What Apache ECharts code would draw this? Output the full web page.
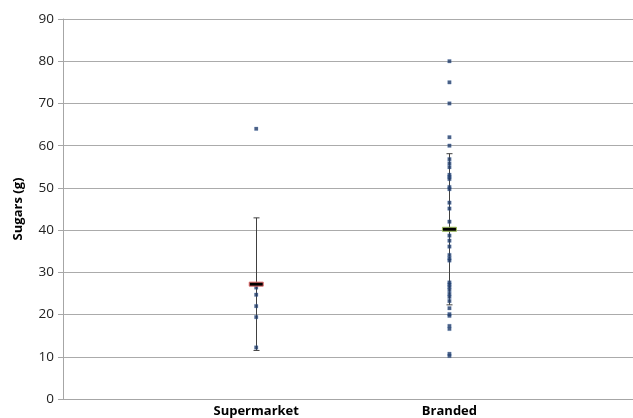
<!DOCTYPE html>
<html><head><meta charset="utf-8">
<script src="https://cdn.jsdelivr.net/npm/echarts@6/dist/echarts.min.js"></script>
<style>html,body{margin:0;padding:0;background:#fff}#c{width:633px;height:418px}</style>
</head><body><div id="c"></div>
<script>
var categories = ['Supermarket', 'Branded'];
var categoryX = [1, 2];
var supermarketValues = [64, 26.4, 24.7, 22.0, 19.4, 12.2];
var brandedValues = [80, 75, 70, 62, 60, 56.8, 55.8, 54.9, 53.1, 52.6, 52.1, 50.2, 49.7, 46.5, 45.1, 42.0, 40.2, 38.7, 37.5, 36.1, 34.1, 33.3, 32.8, 27.6, 27.1, 26.5, 25.8, 24.9, 24.2, 23.2, 21.5, 20.1, 19.7, 17.3, 16.6, 10.7, 10.2];
var means = [27.2, 40.2];
var sds = [15.7, 17.9];
var meanBorderColors = ['#E46C6C', '#9BBB59'];
var yTicks = [0, 10, 20, 30, 40, 50, 60, 70, 80, 90];

var chart = echarts.init(document.getElementById('c'));
function pts(x, arr){ return arr.map(function(v){ return [x, v]; }); }
var whiskerData = means.map(function(m, i){ return [categoryX[i], m - sds[i], m + sds[i]]; });
var meanData = means.map(function(m, i){ return [categoryX[i], m, i]; });

chart.setOption({
  animation: false,
  grid: {left: 63, right: 0, top: 19, bottom: 19},
  xAxis: {
    type: 'value', min: 0, max: 2.95, interval: 1,
    axisLine: {show: true, lineStyle: {color: '#A6A6A6'}},
    axisTick: {show: false},
    splitLine: {show: false},
    axisLabel: {
      showMaxLabel: false,
      margin: 6, fontSize: 13, fontWeight: 'bold', color: '#000', fontFamily: 'Open Sans',
      formatter: function(v){ var i = categoryX.indexOf(v); return i >= 0 ? categories[i] : ''; }
    }
  },
  yAxis: {
    type: 'value', min: yTicks[0], max: yTicks[yTicks.length-1], interval: 10,
    name: 'Sugars (g)', nameLocation: 'middle', nameGap: 38,
    nameTextStyle: {fontSize: 13, fontWeight: 'bold', color: '#000', fontFamily: 'Open Sans'},
    axisLine: {show: true, lineStyle: {color: '#A6A6A6'}},
    axisTick: {show: true, length: 5, lineStyle: {color: '#A6A6A6'}},
    splitLine: {show: true, lineStyle: {color: '#ABABAB', width: 1}},
    axisLabel: {fontSize: 13.5, color: '#222', margin: 9, fontFamily: 'Open Sans'}
  },
  series: [
    {
      type: 'custom', z: 2,
      renderItem: function(params, api){
        var x = api.value(0);
        var lo = api.coord([x, api.value(1)]);
        var hi = api.coord([x, api.value(2)]);
        var st = {stroke: '#404040', lineWidth: 1};
        var cx = Math.round(lo[0]) + 0.5;
        return {type: 'group', children: [
          {type: 'line', shape: {x1: cx, y1: hi[1], x2: cx, y2: lo[1]}, style: st},
          {type: 'line', shape: {x1: cx-3, y1: hi[1], x2: cx+3, y2: hi[1]}, style: st},
          {type: 'line', shape: {x1: cx-3, y1: lo[1], x2: cx+3, y2: lo[1]}, style: st}
        ]};
      },
      data: whiskerData
    },
    {type: 'scatter', z: 3, symbol: 'rect', symbolSize: 3.5, itemStyle: {color: '#1F3864', borderColor: '#3A6AA8', borderWidth: 0.3}, data: pts(categoryX[0], supermarketValues)},
    {type: 'scatter', z: 3, symbol: 'rect', symbolSize: 3.5, itemStyle: {color: '#1F3864', borderColor: '#3A6AA8', borderWidth: 0.3}, data: pts(categoryX[1], brandedValues)},
    {
      type: 'custom', z: 4,
      renderItem: function(params, api){
        var p = api.coord([api.value(0), api.value(1)]);
        var i = api.value(2);
        return {type: 'rect', shape: {x: p[0]-7, y: p[1]-2, width: 14, height: 4},
          style: {fill: '#000', stroke: meanBorderColors[i], lineWidth: 1}};
      },
      data: meanData
    }
  ]
});
</script></body></html>
